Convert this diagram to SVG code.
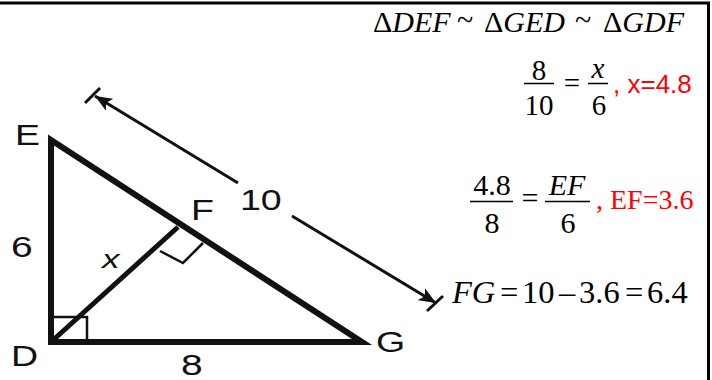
<svg xmlns="http://www.w3.org/2000/svg" width="712" height="380" viewBox="0 0 712 380">
<style>
.lbl{font-family:"Liberation Sans",Arial,sans-serif;font-size:30px;fill:#111}
.m{font-family:"Liberation Serif","Times New Roman",serif;fill:#000}
.i{font-style:italic}
.red{fill:#ff0000}
.bar{stroke:#000;stroke-width:1.5}
.thin{fill:none;stroke:#111;stroke-width:2.5}
</style>
<defs>
<marker id="ah" markerUnits="userSpaceOnUse" markerWidth="18" markerHeight="14" refX="17" refY="7" orient="auto-start-reverse">
<path d="M0,0 L17,7 L0,14 L4,7 z" fill="#111"/>
</marker>
</defs>
<rect width="712" height="380" fill="#fff"/>
<g id="frame" fill="none" stroke="#000" stroke-width="3">
<line x1="0" y1="3" x2="710" y2="3"/>
<line x1="708.5" y1="2" x2="708.5" y2="380"/>
</g>
<g id="triangle">
<polygon points="51,140 51,342 362,342" fill="none" stroke="#111" stroke-width="6" stroke-linejoin="miter"/>
<line x1="51" y1="342" x2="178" y2="227" stroke="#111" stroke-width="5"/>
<polyline class="thin" points="160,251 183,263 203,243"/>
<polyline class="thin" points="51,317 87,317 87,342"/>
</g>
<g id="connectors" stroke="#111" stroke-width="3" fill="none">
<line x1="95" y1="96" x2="238" y2="183" marker-start="url(#ah)"/>
<line x1="292" y1="216" x2="436" y2="303" marker-end="url(#ah)"/>
<line x1="85" y1="103" x2="100" y2="88"/>
<line x1="427" y1="311" x2="443" y2="296"/>
</g>
<g id="labels">
<text class="lbl" transform="translate(15,145) scale(1.25,1)">E</text>
<text class="lbl" transform="translate(191,220) scale(1.25,1)">F</text>
<text class="lbl" transform="translate(240,210) scale(1.25,1)">10</text>
<text class="lbl" transform="translate(11,257) scale(1.3,1)">6</text>
<text class="lbl" transform="translate(11,366) scale(1.25,1)">D</text>
<text class="lbl" transform="translate(181,375) scale(1.3,1)">8</text>
<text class="lbl" transform="translate(376,352) scale(1.25,1)">G</text>
<text class="lbl" style="font-style:italic;font-size:25px" transform="translate(102,268) scale(1.4,1)">x</text>
</g>
<g id="similar" class="m" font-size="30">
<text x="373" y="32">Δ<tspan class="i">DEF</tspan></text>
<text x="465" y="30" text-anchor="middle">~</text>
<text x="484" y="32">Δ<tspan class="i">GED</tspan></text>
<text x="583" y="30" text-anchor="middle">~</text>
<text x="603" y="32">Δ<tspan class="i">GDF</tspan></text>
</g>
<g id="eq1" class="m" font-size="29" text-anchor="middle">
<text x="539" y="80">8</text>
<line class="bar" x1="524" y1="83.5" x2="554" y2="83.5"/>
<text x="539" y="115">10</text>
<text x="572" y="93">=</text>
<text x="598" y="78" class="i">x</text>
<line class="bar" x1="588" y1="83.5" x2="608" y2="83.5"/>
<text x="599" y="115">6</text>
<text x="613" y="93" text-anchor="start" class="red" style="font-family:'Liberation Sans',Arial,sans-serif;font-size:26px">, x=4.8</text>
</g>
<g id="eq2" class="m" font-size="30" text-anchor="middle">
<text x="492" y="195">4.8</text>
<line class="bar" x1="470" y1="201.5" x2="513" y2="201.5"/>
<text x="492" y="233">8</text>
<text x="530" y="208">=</text>
<text x="567" y="195" class="i">EF</text>
<line class="bar" x1="545" y1="201.5" x2="590" y2="201.5"/>
<text x="568" y="233">6</text>
<text x="596" y="209" text-anchor="start" class="red" font-size="28">, EF=3.6</text>
</g>
<g id="eq3" class="m" font-size="32.5">
<text x="452" y="303" class="i">FG</text>
<text x="500" y="303">=</text>
<text x="522" y="303">10</text>
<text x="559" y="303">–</text>
<text x="579" y="303">3.6</text>
<text x="625" y="303">=</text>
<text x="647" y="303">6.4</text>
</g>
</svg>
